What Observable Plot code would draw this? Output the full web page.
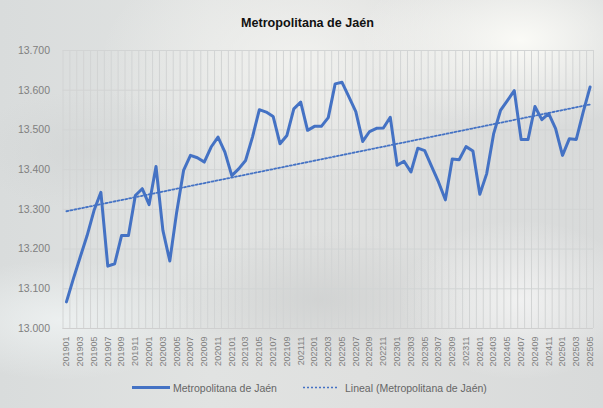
<!DOCTYPE html>
<html><head><meta charset="utf-8">
<script src="https://cdn.jsdelivr.net/npm/d3@7"></script>
<script src="https://cdn.jsdelivr.net/npm/@observablehq/plot@0.6"></script>
<style>
html,body{margin:0;padding:0;}
body{width:603px;height:408px;overflow:hidden;}
#wrap{position:relative;width:603px;height:408px;overflow:hidden;
 font-family:"Liberation Sans",Arial,sans-serif;
 background:
  radial-gradient(ellipse 160px 90px at 520px 40px, rgba(252,252,248,0.95), rgba(252,252,248,0) 100%),
  radial-gradient(ellipse 200px 120px at 300px 60px, rgba(245,245,242,0.8), rgba(245,245,242,0) 100%),
  radial-gradient(ellipse 120px 80px at 520px 300px, rgba(250,250,250,0.7), rgba(250,250,250,0) 100%),
  radial-gradient(ellipse 140px 60px at 60px 320px, rgba(240,244,244,0.8), rgba(240,244,244,0) 100%),
  radial-gradient(ellipse 150px 70px at 320px 300px, rgba(200,202,202,0.6), rgba(200,202,202,0) 100%),
  radial-gradient(ellipse 120px 60px at 90px 150px, rgba(205,208,208,0.5), rgba(205,208,208,0) 100%),
  linear-gradient(90deg,#d9dcdc 0%,#e1e3e2 35%,#dfe0df 60%,#d8dada 100%);}
#title{position:absolute;left:0;width:615px;top:16px;text-align:center;font-weight:bold;font-size:12.6px;color:#111;}
#plot{position:absolute;left:0;top:0;}
#legend{position:absolute;top:379px;left:0;width:603px;height:18px;font-size:10.5px;color:#666;}
.item{position:absolute;top:0;line-height:18px;white-space:nowrap;}
</style></head>
<body><div id="wrap">
<div id="plot"></div>
<div id="title">Metropolitana de Jaén</div>
<div id="legend">
 <svg style="position:absolute;left:0;top:0" width="603" height="18">
  <line x1="132" x2="170" y1="8.5" y2="8.5" stroke="#4472C4" stroke-width="3"/>
  <line x1="303" x2="339" y1="8.5" y2="8.5" stroke="#4472C4" stroke-width="1.6" stroke-dasharray="2,2"/>
 </svg>
 <span class="item" style="left:173px">Metropolitana de Jaén</span>
 <span class="item" style="left:345px">Lineal (Metropolitana de Jaén)</span>
</div>
</div>
<script>
const months = ["201901","201902","201903","201904","201905","201906","201907","201908","201909","201910","201911","201912",
"202001","202002","202003","202004","202005","202006","202007","202008","202009","202010","202011","202012",
"202101","202102","202103","202104","202105","202106","202107","202108","202109","202110","202111","202112",
"202201","202202","202203","202204","202205","202206","202207","202208","202209","202210","202211","202212",
"202301","202302","202303","202304","202305","202306","202307","202308","202309","202310","202311","202312",
"202401","202402","202403","202404","202405","202406","202407","202408","202409","202410","202411","202412",
"202501","202502","202503","202504","202505"];
const values = [13067,13125,13180,13234,13297,13343,13157,13163,13234,13234,13335,13352,
13312,13408,13247,13170,13293,13398,13436,13430,13419,13457,13482,13444,
13385,13402,13423,13482,13551,13545,13534,13465,13486,13553,13570,13499,
13509,13509,13531,13616,13620,13583,13546,13471,13496,13504,13505,13532,
13411,13421,13394,13454,13448,13408,13369,13324,13427,13425,13458,13447,
13338,13390,13490,13549,13574,13599,13476,13476,13559,13526,13541,13503,
13436,13478,13476,13545,13608];
const yTicks = [13000,13100,13200,13300,13400,13500,13600,13700];
const xTickIdx = months.map((m,i)=>i).filter(i=>i%2===0);

const data = months.map((m,i)=>({i, month:m, value:values[i]}));
const bounds = months.map((m,i)=>i-0.5).concat([months.length-0.5]);
const loc = d3.formatLocale({decimal:",",thousands:".",grouping:[3],currency:["","€"]});
const fmt = loc.format(",.0f");
const blue = "#4472C4";
const font = '"Liberation Sans",Arial,sans-serif';

const chart = Plot.plot({
  width:603, height:378,
  marginLeft:62.5, marginRight:10, marginTop:50, marginBottom:50,
  style:{background:"transparent", fontFamily:font, overflow:"visible"},
  x:{type:"linear", domain:[-0.5, months.length-0.5], axis:null},
  y:{domain:[13000,13700], axis:null},
  marks:[
    Plot.ruleX(bounds, {x:d=>d, y1:13000, y2:13700, stroke:"#d2d4d4", strokeWidth:1}),
    Plot.ruleY(yTicks, {stroke:"#d2d4d4", strokeWidth:1}),
    Plot.ruleY([13000], {stroke:"#cfcfcf", strokeWidth:1}),
    Plot.axisY(yTicks, {label:null, tickSize:0, tickPadding:13, tickFormat:fmt, fontSize:10.5, fill:"#808080"}),
    Plot.axisX(xTickIdx, {label:null, tickSize:0, tickPadding:8, tickRotate:-90, tickFormat:i=>months[i], fontSize:9, fill:"#808080"}),
    Plot.linearRegressionY(data, {x:"i", y:"value", ci:0, stroke:blue, strokeWidth:1.8, strokeDasharray:"2,2"}),
    Plot.line(data, {x:"i", y:"value", stroke:blue, strokeWidth:3, strokeLinejoin:"round"})
  ]
});
document.getElementById("plot").appendChild(chart);
</script>
</body></html>
